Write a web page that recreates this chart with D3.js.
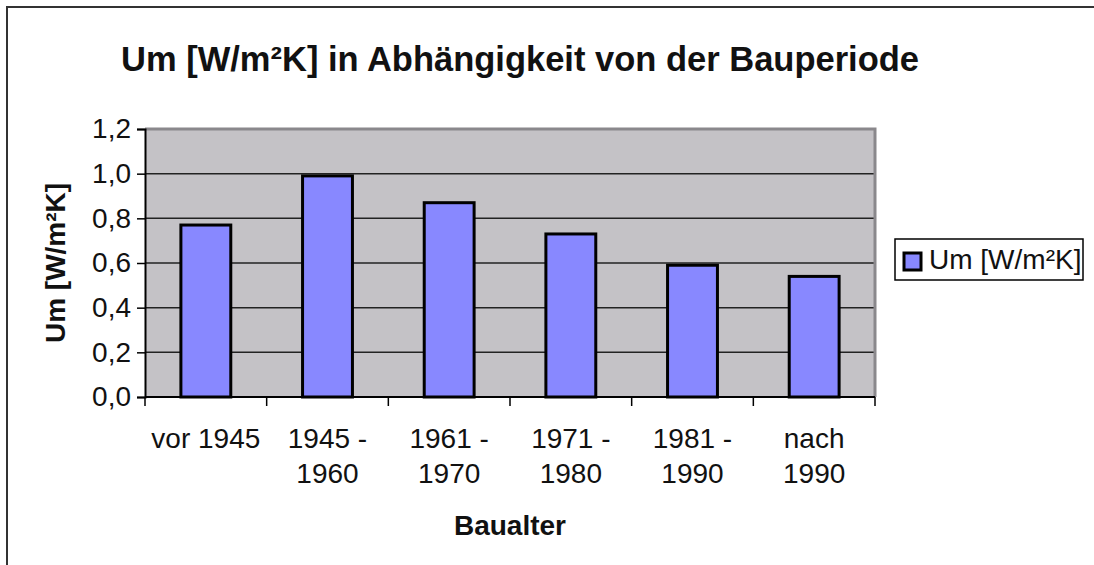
<!DOCTYPE html>
<html>
<head>
<meta charset="utf-8">
<script src="https://cdn.jsdelivr.net/npm/d3@7"></script>
<style>
  html, body { margin: 0; background: #fff; overflow: hidden; }
  svg { display: block; }
  text { font-family: "Liberation Sans", Arial, sans-serif; fill: #111; }
</style>
</head>
<body>
<svg id="chart" width="1094" height="565"></svg>
<script>
// data
let categories = ["vor 1945", "1945 - 1960", "1961 - 1970", "1971 - 1980", "1981 - 1990", "nach 1990"];
let categoryLines = [["vor 1945"], ["1945 -", "1960"], ["1961 -", "1970"], ["1971 -", "1980"], ["1981 -", "1990"], ["nach", "1990"]];
let values = [0.77, 0.99, 0.87, 0.73, 0.59, 0.54];
let yTicks = [0, 0.2, 0.4, 0.6, 0.8, 1.0, 1.2];
let seriesName = "Um [W/m²K]";

let plot = {left: 145, top: 129, right: 875, bottom: 397};

let svg = d3.select("#chart");

// outer chart border, only left and top are inside the picture
svg.append("path")
  .attr("d", "M7,565V7H1094")
  .attr("fill", "none")
  .attr("stroke", "#333")
  .attr("stroke-width", 2);

let x = d3.scaleBand()
  .domain(categories)
  .range([plot.left, plot.right])
  .paddingInner(0.59)
  .paddingOuter(0.295);

let y = d3.scaleLinear()
  .domain([0, 1.2])
  .range([plot.bottom, plot.top]);

// plot area
svg.append("rect")
  .attr("x", plot.left).attr("y", plot.top)
  .attr("width", plot.right - plot.left)
  .attr("height", plot.bottom - plot.top)
  .attr("fill", "#c4c2c6");

// gridlines
svg.append("g")
  .selectAll("line")
  .data(yTicks.filter(d => d > 0 && d < 1.2))
  .join("line")
    .attr("x1", plot.left).attr("x2", plot.right)
    .attr("y1", d => y(d)).attr("y2", d => y(d))
    .attr("stroke", "#222")
    .attr("stroke-width", 1.5);

// grey frame top and right
svg.append("path")
  .attr("d", `M${plot.left},${plot.top}H${plot.right}V${plot.bottom}`)
  .attr("fill", "none")
  .attr("stroke", "#8a888c")
  .attr("stroke-width", 3);

// bars
svg.append("g")
  .selectAll("rect")
  .data(values)
  .join("rect")
    .attr("x", (d, i) => x(categories[i]))
    .attr("y", d => y(d))
    .attr("width", x.bandwidth())
    .attr("height", d => y(0) - y(d))
    .attr("fill", "#8888ff")
    .attr("stroke", "#000")
    .attr("stroke-width", 3);

// y axis
let yAxis = d3.axisLeft(y)
  .tickValues(yTicks)
  .tickSize(8)
  .tickPadding(6)
  .tickFormat(d => d3.format(".1f")(d).replace(".", ","));

let gy = svg.append("g")
  .attr("transform", `translate(${plot.left},0)`)
  .call(yAxis);
gy.select(".domain").attr("stroke", "#000").attr("stroke-width", 2);
gy.selectAll(".tick line").attr("stroke", "#000").attr("stroke-width", 1.5);
gy.selectAll(".tick text")
  .attr("font-family", "Liberation Sans, Arial, sans-serif")
  .attr("font-size", 28)
  .attr("fill", "#111");

// x axis: ticks on category boundaries
let step = x.step();
let gx = svg.append("g");
gx.append("line")
  .attr("x1", plot.left).attr("x2", plot.right)
  .attr("y1", plot.bottom).attr("y2", plot.bottom)
  .attr("stroke", "#000").attr("stroke-width", 2);
gx.selectAll(".xtick")
  .data(d3.range(categories.length + 1))
  .join("line")
    .attr("class", "xtick")
    .attr("x1", i => plot.left + i * step).attr("x2", i => plot.left + i * step)
    .attr("y1", plot.bottom).attr("y2", plot.bottom + 9)
    .attr("stroke", "#000").attr("stroke-width", 1.5);

let labels = gx.selectAll(".xlabel")
  .data(categoryLines)
  .join("text")
    .attr("class", "xlabel")
    .attr("text-anchor", "middle")
    .attr("font-size", 28)
    .attr("x", (d, i) => x(categories[i]) + x.bandwidth() / 2)
    .attr("y", 448);
labels.selectAll("tspan")
  .data(d => d)
  .join("tspan")
    .attr("x", function() { return d3.select(this.parentNode).attr("x"); })
    .attr("dy", (d, i) => i === 0 ? 0 : 35)
    .text(d => d);

// titles
svg.append("text")
  .attr("x", 520).attr("y", 71)
  .attr("text-anchor", "middle")
  .attr("font-size", 34.5)
  .attr("font-weight", "bold")
  .text("Um [W/m²K] in Abhängigkeit von der Bauperiode");

svg.append("text")
  .attr("x", (plot.left + plot.right) / 2).attr("y", 535)
  .attr("text-anchor", "middle")
  .attr("font-size", 28)
  .attr("font-weight", "bold")
  .text("Baualter");

svg.append("text")
  .attr("transform", `translate(65,${(plot.top + plot.bottom) / 2}) rotate(-90)`)
  .attr("text-anchor", "middle")
  .attr("font-size", 28)
  .attr("font-weight", "bold")
  .text(seriesName);

// legend
let legend = svg.append("g").attr("transform", "translate(895,239)");
legend.append("rect")
  .attr("width", 188).attr("height", 41)
  .attr("fill", "#fff")
  .attr("stroke", "#000").attr("stroke-width", 1.5);
legend.append("rect")
  .attr("x", 9).attr("y", 14)
  .attr("width", 17).attr("height", 17)
  .attr("fill", "#8888ff")
  .attr("stroke", "#000").attr("stroke-width", 3);
legend.append("text")
  .attr("x", 34).attr("y", 30)
  .attr("font-size", 28)
  .text(seriesName);
</script>
</body>
</html>
